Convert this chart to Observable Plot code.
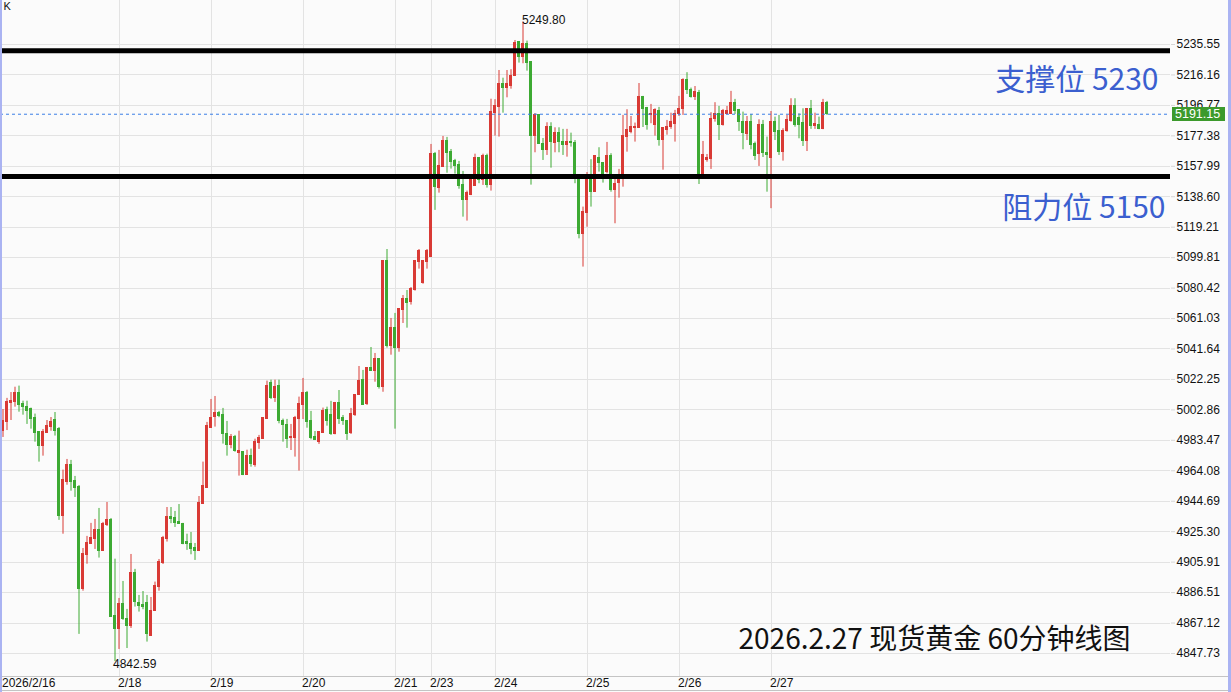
<!DOCTYPE html>
<html><head><meta charset="utf-8">
<script src="https://cdn.jsdelivr.net/npm/d3@7"></script>
<script src="https://cdn.jsdelivr.net/npm/@observablehq/plot@0.6"></script>
<style>
body{margin:0;background:#fbfbfb;}
#wrap{position:relative;width:1231px;height:692px;overflow:hidden;background:#fbfbfb;font-family:"Liberation Sans",Arial,sans-serif;}
#wrap svg{position:absolute;left:0;top:0;}
.ln{position:absolute;pointer-events:none;}
</style></head>
<body><div id="wrap"></div>
<script>
// ---- data ----
const open = [4989.7,4995.0,5007.0,5007.6,5013.9,5006.5,5004.4,5003.3,4997.6,4988.7,4979.8,4988.0,4991.9,4996.7,4990.4,4935.6,4956.8,4967.5,4957.3,4953.5,4888.5,4910.4,4917.4,4920.4,4926.1,4912.7,4929.3,4932.5,4871.3,4863.2,4879.0,4869.4,4865.0,4899.3,4880.2,4878.3,4879.6,4858.8,4874.7,4890.0,4905.3,4920.6,4934.4,4933.9,4931.2,4930.4,4918.5,4917.6,4914.8,4912.9,4943.1,4953.3,4991.2,4998.2,5000.8,4999.3,4987.7,4980.4,4985.9,4975.3,4975.8,4961.3,4973.2,4967.9,4981.7,4984.2,4997.2,5019.7,5010.6,5017.8,4996.1,4993.4,4984.9,4984.9,4997.2,5005.9,5013.9,4995.5,4985.3,4982.1,4987.9,5002.5,4999.3,4987.2,5007.0,4997.4,4996.0,4987.9,4999.3,5012.1,5021.6,5006.3,5029.3,5027.5,5035.0,5017.3,5097.4,5043.5,5054.7,5042.2,5066.4,5073.2,5071.5,5079.1,5097.0,5083.6,5097.0,5100.1,5165.5,5144.1,5157.4,5173.8,5166.8,5161.1,5158.5,5145.8,5136.4,5139.6,5145.3,5163.0,5149.0,5164.3,5145.8,5192.1,5195.6,5210.7,5207.8,5209.3,5215.4,5236.9,5227.5,5236.0,5224.1,5177.2,5190.4,5172.3,5168.1,5182.9,5172.7,5179.1,5173.2,5171.3,5173.2,5172.7,5151.1,5114.6,5128.4,5151.1,5141.5,5163.4,5160.2,5154.3,5164.3,5143.2,5147.3,5153.2,5176.6,5179.7,5182.3,5182.3,5201.8,5194.8,5190.8,5184.6,5192.9,5174.6,5181.0,5182.7,5184.8,5191.0,5194.2,5212.7,5206.7,5202.0,5204.8,5153.2,5161.7,5162.4,5187.8,5191.4,5184.0,5191.4,5191.4,5198.6,5193.6,5186.5,5178.3,5186.5,5171.9,5165.5,5184.0,5166.4,5163.2,5186.1,5180.2,5167.0,5180.2,5186.7,5196.7,5188.6,5185.5,5173.8,5194.2,5183.6,5184.0,5181.5,5198.2];
const high = [5003.1,5010.2,5013.9,5017.3,5018.0,5008.4,5008.4,5004.0,5000.2,4988.7,4990.4,4996.1,4998.0,5001.2,4991.6,4964.5,4971.3,4970.7,4960.5,4954.7,4914.6,4922.3,4930.6,4933.1,4940.1,4931.2,4943.9,4933.7,4907.8,4882.8,4893.6,4875.8,4910.8,4901.3,4884.7,4887.2,4884.7,4883.4,4893.2,4907.6,4922.3,4940.7,4940.7,4938.2,4942.6,4930.6,4923.7,4924.8,4917.8,4947.7,4969.6,4994.9,5009.5,5011.4,5001.9,5003.8,4995.5,4987.2,4986.6,4989.3,4976.0,4977.2,4977.9,4984.2,4986.6,4997.6,5021.2,5021.8,5021.8,5021.8,4997.0,4996.8,4993.6,4998.7,5011.0,5022.9,5014.6,5001.9,4989.1,4989.1,5004.0,5004.6,5008.3,5007.6,5015.2,4999.3,4996.1,5003.8,5012.1,5030.5,5028.0,5029.3,5042.6,5038.8,5035.0,5098.0,5105.0,5061.1,5064.3,5066.8,5075.7,5078.9,5080.8,5098.0,5105.0,5098.0,5105.0,5171.9,5166.8,5168.1,5177.0,5176.4,5168.7,5162.4,5161.1,5154.7,5142.2,5150.0,5165.7,5163.6,5165.7,5165.7,5200.7,5200.4,5219.0,5214.1,5219.0,5219.5,5238.1,5237.5,5249.8,5237.7,5224.3,5191.6,5190.6,5175.7,5185.7,5185.7,5182.5,5182.5,5181.5,5181.5,5179.1,5174.4,5151.3,5132.0,5154.0,5162.2,5164.5,5169.8,5160.4,5173.2,5166.0,5150.1,5156.0,5190.4,5194.0,5189.7,5185.5,5210.7,5202.5,5195.5,5197.4,5194.6,5195.5,5182.5,5187.2,5191.8,5193.6,5202.5,5213.7,5217.6,5207.8,5208.8,5206.3,5173.8,5165.5,5192.1,5198.5,5196.1,5194.2,5196.1,5205.7,5200.6,5194.2,5192.5,5189.7,5191.0,5173.4,5187.6,5187.2,5176.6,5192.9,5189.3,5190.4,5181.9,5190.4,5201.0,5201.0,5191.4,5194.6,5194.6,5199.9,5191.8,5189.3,5200.6,5199.3];
const low = [4985.3,4989.7,4996.1,5004.6,5001.4,4999.5,4993.6,4990.6,4982.3,4969.6,4973.4,4988.0,4989.3,4986.2,4932.5,4923.7,4954.9,4951.1,4947.1,4859.9,4887.4,4904.6,4917.4,4914.0,4908.5,4912.7,4928.6,4870.7,4842.59,4850.3,4868.8,4850.9,4863.7,4877.3,4874.1,4875.6,4855.0,4858.8,4874.7,4887.4,4904.4,4918.7,4930.4,4928.0,4930.1,4917.0,4913.4,4910.6,4907.0,4912.9,4943.1,4953.3,4991.2,4991.9,4997.9,4981.1,4973.4,4978.1,4975.9,4960.7,4961.0,4961.3,4966.4,4966.4,4977.7,4984.0,4997.2,5009.5,5007.6,4994.0,4982.3,4978.3,4977.0,4972.8,4963.9,4996.7,4991.2,4983.8,4983.4,4980.9,4987.9,4992.5,4986.6,4987.0,4993.6,4993.0,4983.4,4987.2,4998.7,5012.1,5005.9,5005.7,5027.5,5020.5,5016.1,5014.1,5042.2,5037.7,4990.6,5039.6,5057.9,5054.9,5069.6,5078.5,5092.5,5082.9,5092.5,5100.1,5129.9,5140.9,5157.4,5153.6,5156.2,5153.0,5143.4,5125.6,5123.1,5139.3,5145.3,5146.9,5145.8,5144.1,5142.2,5177.2,5176.6,5191.8,5201.6,5207.1,5215.4,5223.7,5223.3,5218.6,5146.0,5166.6,5172.1,5161.7,5164.9,5156.8,5166.6,5166.6,5164.9,5163.8,5170.2,5146.9,5111.8,5093.8,5119.2,5132.0,5141.3,5154.3,5147.3,5153.2,5141.5,5121.4,5137.7,5144.7,5167.0,5178.7,5173.4,5182.3,5182.7,5181.0,5185.1,5177.2,5170.8,5155.5,5177.8,5181.5,5173.4,5189.7,5190.4,5203.7,5201.4,5199.9,5146.4,5153.2,5160.6,5156.0,5186.1,5174.4,5183.6,5190.8,5191.4,5191.0,5180.2,5168.5,5174.4,5168.5,5161.7,5157.9,5163.6,5141.5,5131.0,5174.4,5164.9,5161.3,5179.7,5186.1,5182.9,5175.5,5170.6,5167.4,5181.5,5181.5,5181.3,5181.3,5190.4];
const close = [4995.5,5007.6,5008.3,5013.9,5005.7,5004.4,5001.9,4996.9,4988.0,4979.8,4988.7,4992.3,4995.0,4989.7,4935.6,4957.9,4967.5,4956.8,4953.0,4888.5,4911.0,4917.8,4921.0,4926.1,4912.7,4929.9,4932.5,4870.9,4863.2,4879.0,4869.4,4865.0,4899.3,4880.4,4877.9,4877.5,4859.9,4875.1,4890.4,4905.7,4921.0,4934.4,4933.3,4930.7,4930.1,4917.2,4917.4,4914.2,4912.9,4943.3,4954.7,4992.5,4998.0,5000.8,4998.9,4987.4,4980.4,4985.3,4976.8,4976.6,4961.3,4973.7,4968.3,4982.1,4984.9,4997.4,5018.2,5010.6,5017.3,4995.7,4993.4,4984.2,4985.3,4997.4,5006.5,5013.9,4995.0,4984.9,4983.8,4988.5,5001.9,4996.1,4987.2,5007.0,4996.8,4996.1,4987.2,5000.0,5012.1,5021.0,5005.9,5029.3,5027.5,5035.0,5017.3,5097.4,5043.5,5054.7,5042.2,5066.8,5073.2,5070.8,5079.6,5097.4,5103.8,5097.4,5103.8,5165.5,5144.7,5157.9,5173.8,5166.4,5160.6,5158.1,5145.3,5136.4,5140.9,5149.6,5163.0,5149.4,5164.3,5146.0,5192.3,5196.7,5210.1,5207.8,5210.1,5215.8,5236.7,5227.5,5236.0,5223.7,5177.2,5190.4,5172.3,5168.1,5182.9,5173.2,5179.1,5173.2,5171.3,5173.2,5172.7,5151.1,5114.6,5128.8,5150.9,5141.5,5164.3,5160.0,5153.2,5164.3,5142.6,5146.9,5150.1,5177.0,5180.8,5182.7,5182.7,5201.8,5194.4,5184.2,5191.4,5193.6,5174.6,5182.1,5182.7,5185.9,5191.6,5194.6,5212.7,5206.7,5202.0,5205.2,5153.2,5164.9,5163.2,5188.3,5191.4,5184.0,5193.1,5192.9,5198.6,5193.1,5186.1,5179.1,5186.5,5171.3,5164.4,5184.0,5166.2,5165.3,5186.1,5179.7,5167.0,5180.2,5187.2,5196.7,5184.0,5184.0,5174.4,5194.2,5183.6,5185.1,5181.5,5198.2,5191.15];
const yTicks = [4847.73,4867.12,4886.51,4905.91,4925.30,4944.69,4964.08,4983.47,5002.86,5022.25,5041.64,5061.03,5080.42,5099.81,5119.21,5138.60,5157.99,5177.38,5196.77,5216.16,5235.55];
const dateTickIndex = [0,29,52,75,98,107,123,146,169,192];
const dateLabels = ["2026/2/16","2/18","2/19","2/20","2/21","2/23","2/24","2/25","2/26","2/27"];
const levels = [5231.5, 5151.5];
const levelLabels = ["支撑位 5230", "阻力位 5150"];
const caption = "2026.2.27 现货黄金 60分钟线图";

// ---- build ----
const RED = "#d93a35", GREEN = "#3daa33";
const candles = open.map((o, i) => ({i, o, h: high[i], l: low[i], c: close[i]}));
const col = d => d.c >= d.o ? RED : GREEN;
const maxI = d3.maxIndex(high), minI = d3.minIndex(low);
const lastClose = close[close.length - 1];

const chart = Plot.plot({
  width: 1231, height: 692,
  marginLeft: 0, marginRight: 61, marginTop: 0, marginBottom: 16,
  style: {background: "transparent", fontFamily: "'Liberation Sans', Arial, sans-serif", fontSize: "12px", color: "#111", overflow: "visible"},
  x: {type: "linear", domain: [-0.625, 291.875], label: null},
  y: {type: "linear", domain: [4833.08, 5263.57], label: null},
  marks: [
    Plot.ruleY(yTicks, {stroke: "#e3e3e3", strokeWidth: 1, shapeRendering: "crispEdges"}),
    Plot.ruleX(dateTickIndex.slice(1), {stroke: "#e3e3e3", strokeWidth: 1, shapeRendering: "crispEdges"}),
    Plot.axisY(yTicks, {anchor: "right", label: null, tickSize: 4, tickPadding: 2, stroke: "#d6d6d6", fill: "#111", fontSize: 12, tickFormat: d => d.toFixed(2)}),
    Plot.axisX(dateTickIndex, {anchor: "bottom", label: null, tickSize: 0, tickPadding: 2, textAnchor: "start", dx: -1, fill: "#111", fontSize: 12, tickFormat: d => dateLabels[dateTickIndex.indexOf(d)]}),
    Plot.ruleX(candles, {x: "i", y1: "l", y2: "h", stroke: col, strokeWidth: 1}),
    Plot.rect(candles, {x1: d => d.i - 0.375, x2: d => d.i + 0.375, y1: d => Math.min(d.o, d.c), y2: d => Math.max(d.o, d.c), fill: col, insetTop: -0.5, insetBottom: -0.5, shapeRendering: "crispEdges"}),
    Plot.ruleY([lastClose], {stroke: "#3b7ee6", strokeWidth: 1, strokeDasharray: "3,3"}),
    Plot.ruleY(levels, {stroke: "#000", strokeWidth: 5}),
    Plot.text([levelLabels[0]], {frameAnchor: "top-right", dx: -12, dy: 80, textAnchor: "end", lineAnchor: "middle", fontSize: 30, fill: "#3b5fcf", fontFamily: "'Noto Sans CJK SC', sans-serif"}),
    Plot.text([levelLabels[1]], {frameAnchor: "top-right", dx: -5, dy: 208, textAnchor: "end", lineAnchor: "middle", fontSize: 30, fill: "#3b5fcf", fontFamily: "'Noto Sans CJK SC', sans-serif"}),
    Plot.text([caption], {frameAnchor: "bottom-right", dx: -40, dy: -36, textAnchor: "end", lineAnchor: "middle", fontSize: 28, fill: "#111", fontFamily: "'Noto Sans CJK SC', sans-serif"}),
    Plot.text([candles[maxI]], {x: "i", y: "h", text: d => d.h.toFixed(2), textAnchor: "start", lineAnchor: "bottom", dx: -1, dy: 2, fontSize: 12, fill: "#111"}),
    Plot.text([candles[minI]], {x: "i", y: "l", text: d => d.l.toFixed(2), textAnchor: "start", lineAnchor: "top", dx: -2, dy: -2, fontSize: 12, fill: "#111"}),
    Plot.text(["K"], {frameAnchor: "top-left", dx: 3, dy: 6, textAnchor: "start", lineAnchor: "middle", fontSize: 11, fill: "#111"})
  ]
});

const wrap = document.getElementById("wrap");
wrap.appendChild(chart);

// current price tag on the axis
const yy = chart.scale("y").apply(lastClose);
const svg = d3.select(chart);
const tag = svg.append("g").attr("text-anchor", "start");
tag.append("rect").attr("x", 1172).attr("y", Math.round(yy) - 7).attr("width", 53).attr("height", 14).attr("fill", "#3c9a2c");
tag.append("text").attr("x", 1175).attr("y", yy).attr("dy", "0.36em").attr("text-anchor", "start").attr("fill", "#fff").attr("font-size", 12.5).attr("font-family", "'Liberation Sans', Arial, sans-serif").text(lastClose.toFixed(2));

// frame lines
function line(css){ const d = document.createElement("div"); d.className = "ln"; Object.assign(d.style, css); wrap.appendChild(d); }
line({left: "0px", top: "676px", width: "1231px", height: "1px", background: "#c4c4c4"});
line({left: "0px", top: "690px", width: "1231px", height: "1px", background: "#c4c4c4"});
line({left: "0px", top: "0px", width: "2px", height: "692px", background: "#aab3f2"});
line({left: "1228px", top: "0px", width: "3px", height: "692px", background: "#aab3f2"});
</script>
</body></html>
